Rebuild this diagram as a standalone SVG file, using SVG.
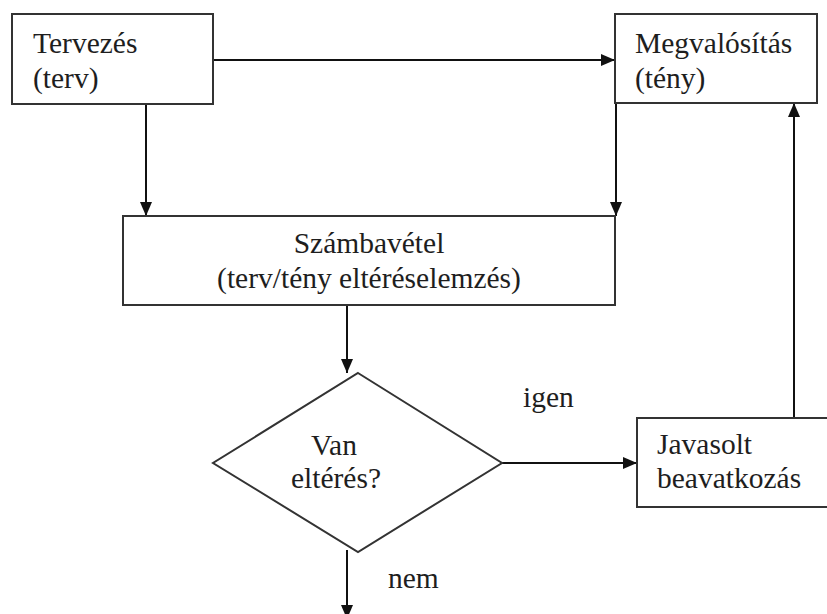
<svg xmlns="http://www.w3.org/2000/svg" width="827" height="614" viewBox="0 0 827 614">
<defs>
<marker id="arr" markerUnits="userSpaceOnUse" markerWidth="14" markerHeight="12" refX="14" refY="6" orient="auto">
<path d="M0,0 L14,6 L0,12 z" fill="#111"/>
</marker>
<style>
.box{fill:#fff;stroke:#333;stroke-width:2}
.ln{fill:none;stroke:#111;stroke-width:2;marker-end:url(#arr)}
text{font-family:'Liberation Serif','Times New Roman',serif;font-size:29.5px;fill:#1e1e1e}
.c{text-anchor:middle}
</style>
</defs>
<rect width="827" height="614" fill="#fff"/>
<g id="connectors">
<line class="ln" x1="213" y1="60" x2="615" y2="60"/>
<line class="ln" x1="146" y1="104" x2="146" y2="216"/>
<line class="ln" x1="616" y1="103" x2="616" y2="216"/>
<line class="ln" x1="347" y1="305" x2="347" y2="373"/>
<line class="ln" x1="502" y1="463" x2="637" y2="463"/>
<line class="ln" x1="794" y1="418" x2="794" y2="103"/>
<line class="ln" x1="347" y1="550" x2="347" y2="619"/>
</g>
<g id="tervezes">
<rect class="box" x="12" y="14" width="201" height="90"/>
<text x="33" y="53">Tervezés</text>
<text x="33" y="88">(terv)</text>
</g>
<g id="megvalositas">
<rect class="box" x="615" y="14" width="202" height="89"/>
<text x="635" y="53">Megvalósítás</text>
<text x="635" y="88">(tény)</text>
</g>
<g id="szambavetel">
<rect class="box" x="123" y="216" width="492" height="89"/>
<text class="c" x="369" y="253">Számbavétel</text>
<text class="c" x="369" y="288">(terv/tény eltéréselemzés)</text>
</g>
<g id="elteres">
<polygon class="box" points="358,373 502,463 358,552 213,463"/>
<text class="c" x="334" y="455">Van</text>
<text class="c" x="336" y="488">eltérés?</text>
</g>
<g id="javasolt">
<rect class="box" x="637" y="418" width="194" height="89"/>
<text x="657" y="454">Javasolt</text>
<text x="657" y="488">beavatkozás</text>
</g>
<g id="labels">
<text x="523" y="407">igen</text>
<text x="388" y="588">nem</text>
</g>
</svg>
